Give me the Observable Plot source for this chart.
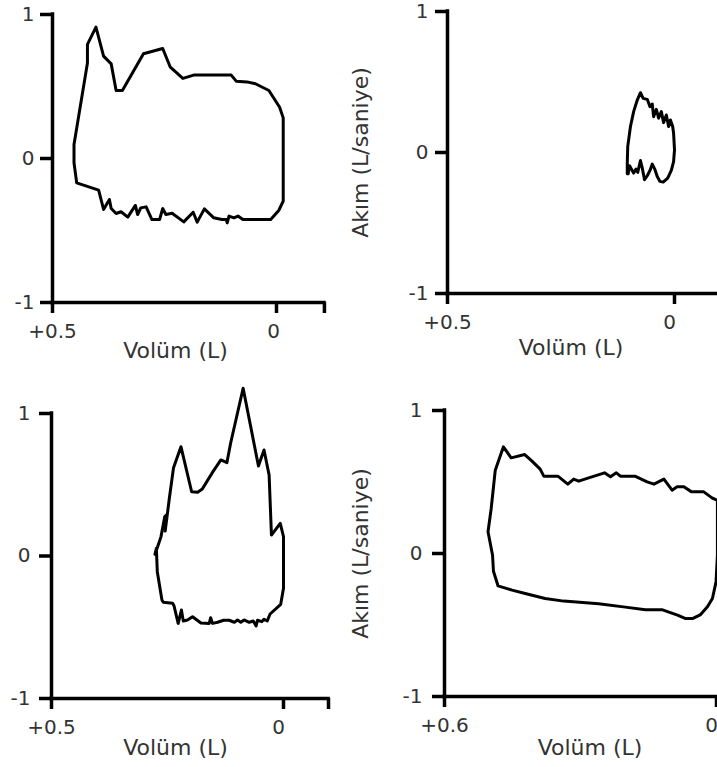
<!DOCTYPE html>
<html>
<head>
<meta charset="utf-8">
<script src="https://cdn.jsdelivr.net/npm/d3@7"></script>
<script src="https://cdn.jsdelivr.net/npm/@observablehq/plot@0.6"></script>
<style>
  html, body { margin: 0; padding: 0; background: #fff; }
  #chart { position: relative; width: 717px; height: 767px; overflow: hidden; background: #fff; }
  #chart svg { position: absolute; left: 0; top: 0; }
</style>
</head>
<body>
<div id="chart"></div>
<script>
// ---- labels & ticks ----
const xLabel = "Volüm (L)";
const yLabel = "Akım (L/saniye)";
const yTicks = [-1, 0, 1];
const yTickLabels = ["-1", "0", "1"];

const p1XTicks = [0.5, 0, -0.107];
const p1XTickLabels = ["+0.5", "0", ""];
const p2XTicks = [0.5, 0, -0.1];
const p2XTickLabels = ["+0.5", "0", ""];
const p3XTicks = [0.5, 0, -0.097];
const p3XTickLabels = ["+0.5", "0", ""];
const p4XTicks = [0.6, 0];
const p4XTickLabels = ["+0.6", "0"];

// ---- loop data: volume (L) and flow (L/s) ----
const p1Volume = [0.452, 0.452, 0.422, 0.422, 0.403, 0.386, 0.369, 0.358, 0.344, 0.297,
  0.254, 0.237, 0.209, 0.185, 0.101, 0.090, 0.066, 0.047, 0.017, -0.007,
  -0.015, -0.015, -0.005, 0.013, 0.075, 0.086, 0.095, 0.106, 0.110, 0.112,
  0.122, 0.140, 0.161, 0.177, 0.186, 0.207, 0.233, 0.247, 0.254, 0.261,
  0.278, 0.291, 0.303, 0.310, 0.315, 0.332, 0.347, 0.358, 0.369, 0.373,
  0.386, 0.397, 0.446, 0.452];
const p1Flow = [-0.030, 0.097, 0.664, 0.792, 0.912, 0.711, 0.657, 0.472, 0.472, 0.727,
  0.764, 0.634, 0.556, 0.579, 0.579, 0.537, 0.532, 0.519, 0.472, 0.356,
  0.282, -0.296, -0.361, -0.424, -0.424, -0.400, -0.412, -0.400, -0.447, -0.424,
  -0.424, -0.412, -0.350, -0.442, -0.373, -0.440, -0.380, -0.389, -0.347, -0.424,
  -0.424, -0.336, -0.343, -0.389, -0.326, -0.407, -0.370, -0.382, -0.347, -0.285,
  -0.354, -0.220, -0.169, -0.030];

const p2Volume = [0.104, 0.104, 0.103, 0.097, 0.090, 0.082, 0.075, 0.069, 0.060, 0.054,
  0.049, 0.046, 0.040, 0.035, 0.029, 0.024, 0.018, 0.013, 0.009, 0.004,
  0.002, 0.000, 0.002, 0.007, 0.015, 0.025, 0.032, 0.038, 0.043, 0.049,
  0.054, 0.060, 0.066, 0.071, 0.075, 0.081, 0.085, 0.090, 0.096, 0.099,
  0.102, 0.104];
const p2Flow = [-0.151, -0.075, 0.042, 0.184, 0.290, 0.372, 0.424, 0.384, 0.377, 0.325,
  0.344, 0.254, 0.306, 0.243, 0.290, 0.212, 0.266, 0.184, 0.231, 0.184,
  0.137, 0.019, -0.064, -0.127, -0.181, -0.210, -0.205, -0.170, -0.122, -0.082,
  -0.127, -0.165, -0.193, -0.111, -0.057, -0.141, -0.118, -0.146, -0.111, -0.094,
  -0.151, -0.151];

const p3Volume = [0.277, 0.270, 0.264, 0.256, 0.252, 0.255, 0.246, 0.237, 0.221, 0.198,
  0.185, 0.175, 0.153, 0.135, 0.122, 0.114, 0.087, 0.054, 0.042, 0.031,
  0.026, 0.007, 0.000, 0.000, 0.006, 0.029, 0.035, 0.042, 0.047, 0.056,
  0.059, 0.065, 0.074, 0.085, 0.092, 0.099, 0.106, 0.117, 0.129, 0.142,
  0.153, 0.157, 0.160, 0.178, 0.196, 0.207, 0.216, 0.220, 0.227, 0.236,
  0.239, 0.259, 0.262, 0.272, 0.274, 0.277];
const p3Flow = [0.012, 0.077, 0.136, 0.276, 0.288, 0.175, 0.405, 0.620, 0.767, 0.451,
  0.447, 0.470, 0.587, 0.674, 0.655, 0.791, 1.177, 0.632, 0.744, 0.568,
  0.147, 0.229, 0.136, -0.227, -0.339, -0.407, -0.456, -0.444, -0.461, -0.451,
  -0.491, -0.456, -0.465, -0.449, -0.465, -0.449, -0.465, -0.451, -0.451, -0.465,
  -0.473, -0.433, -0.473, -0.470, -0.426, -0.449, -0.456, -0.379, -0.473, -0.349,
  -0.332, -0.325, -0.309, -0.110, 0.054, 0.012];

const p4Volume = [0.504, 0.497, 0.488, 0.470, 0.453, 0.423, 0.407, 0.389, 0.381, 0.350,
  0.328, 0.315, 0.304, 0.275, 0.247, 0.234, 0.221, 0.212, 0.180, 0.153,
  0.138, 0.116, 0.098, 0.087, 0.072, 0.055, 0.028, 0.010, -0.002, -0.002,
  0.001, 0.009, 0.020, 0.035, 0.053, 0.068, 0.086, 0.119, 0.157, 0.201,
  0.260, 0.337, 0.378, 0.422, 0.451, 0.482, 0.492, 0.494, 0.504];
const p4Flow = [0.152, 0.315, 0.583, 0.746, 0.669, 0.692, 0.646, 0.590, 0.541, 0.541,
  0.485, 0.520, 0.506, 0.536, 0.564, 0.536, 0.564, 0.541, 0.541, 0.501,
  0.485, 0.520, 0.443, 0.466, 0.466, 0.431, 0.431, 0.389, 0.371, -0.012,
  -0.198, -0.315, -0.373, -0.427, -0.455, -0.455, -0.431, -0.394, -0.394, -0.375,
  -0.352, -0.333, -0.315, -0.280, -0.256, -0.226, -0.124, -0.012, 0.152];

// ---- drawing ----
const W = 717, H = 767;
const FONT = "DejaVu Sans";
const TEXT = "#333";

function panel(cfg) {
  const data = cfg.vol.map((v, i) => ({v, f: cfg.flow[i]}));
  const xs = cfg.xTicks;
  const x0 = xs[0], x1 = xs[xs.length - 1];
  const labelOf = d => cfg.xTickLabels[xs.indexOf(d)];
  const marks = [
    Plot.ruleX([x0], {y1: -1, y2: 1, stroke: "black", strokeWidth: 3.5, strokeLinecap: "square"}),
    Plot.ruleY([-1], {x1: x0, x2: x1, stroke: "black", strokeWidth: 3.5, strokeLinecap: "square"}),
    Plot.axisY(yTicks, {
      tickFormat: d => yTickLabels[yTicks.indexOf(d)],
      tickSize: 12, tickPadding: cfg.yPad, stroke: "black", strokeWidth: 3.5,
      fill: TEXT, fontSize: 20, label: null
    }),
    Plot.axisX(xs, {
      tickFormat: () => "",
      tickSize: 11, tickPadding: 10, stroke: "black", strokeWidth: 3.5,
      fill: TEXT, fontSize: 20, label: null
    }),
    // x tick labels: first (start) label and the remaining ones
    Plot.text([x0], {x: d => d, y: () => -1, text: labelOf, dy: 29,
      textAnchor: "middle", lineAnchor: "middle", fontSize: 20, fill: TEXT}),
    Plot.text(xs.slice(1), {x: d => d, y: () => -1, text: labelOf, dy: 29, dx: cfg.zeroDx,
      textAnchor: "middle", lineAnchor: "middle", fontSize: 20, fill: TEXT}),
    Plot.line(data, {x: "v", y: "f", stroke: "black", strokeWidth: 3,
      strokeLinejoin: "round", strokeLinecap: "round"}),
    Plot.text([xLabel], {text: d => d, frameAnchor: "bottom-left", textAnchor: "middle",
      lineAnchor: "middle", dx: cfg.xLabelDx, dy: cfg.xLabelDy, fontSize: 22, fill: TEXT})
  ];
  if (cfg.showYLabel) {
    marks.push(Plot.text([yLabel], {text: d => d, frameAnchor: "left", rotate: -90,
      textAnchor: "middle", lineAnchor: "middle", dx: cfg.yLabelDx, fontSize: 22, fill: TEXT}));
  }
  return Plot.plot({
    width: W, height: H,
    marginLeft: cfg.left, marginRight: Math.max(0, W - cfg.right),
    marginTop: cfg.top, marginBottom: H - cfg.bottom,
    x: {domain: [x0, x1], range: [cfg.left, cfg.right]},
    y: {domain: [-1, 1], range: [cfg.bottom, cfg.top]},
    style: {background: "transparent", fontFamily: FONT, overflow: "visible"},
    marks
  });
}

const chart = document.getElementById("chart");
const panels = [
  {vol: p1Volume, flow: p1Flow, xTicks: p1XTicks, xTickLabels: p1XTickLabels,
   left: 52, right: 52 + 0.607 * 448, top: 14, bottom: 302, yPad: 6, zeroDx: -3,
   xLabelDx: 123, xLabelDy: 48, showYLabel: false},
  {vol: p2Volume, flow: p2Flow, xTicks: p2XTicks, xTickLabels: p2XTickLabels,
   left: 447, right: 447 + 0.6 * 454, top: 11, bottom: 293, yPad: 7, zeroDx: -5,
   xLabelDx: 123.5, xLabelDy: 54.5, showYLabel: true, yLabelDx: -87},
  {vol: p3Volume, flow: p3Flow, xTicks: p3XTicks, xTickLabels: p3XTickLabels,
   left: 51, right: 51 + 0.597 * 464, top: 413, bottom: 698, yPad: 9, zeroDx: -5,
   xLabelDx: 124, xLabelDy: 49.5, showYLabel: false},
  {vol: p4Volume, flow: p4Flow, xTicks: p4XTicks, xTickLabels: p4XTickLabels,
   left: 444, right: 716, top: 410, bottom: 696, yPad: 10, zeroDx: -5,
   xLabelDx: 145.5, xLabelDy: 51.5, showYLabel: true, yLabelDx: -84}
];
for (const cfg of panels) chart.appendChild(panel(cfg));
</script>
</body>
</html>
